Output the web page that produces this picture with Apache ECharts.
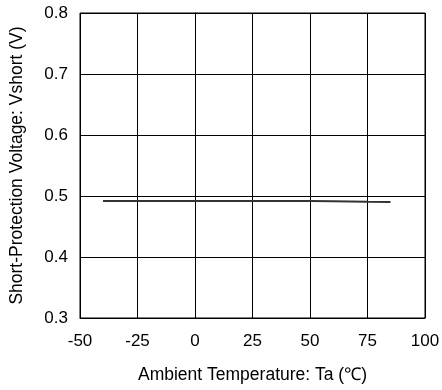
<!DOCTYPE html>
<html><head><meta charset="utf-8">
<script src="https://cdn.jsdelivr.net/npm/echarts@6/dist/echarts.min.js"></script>
<style>html,body{margin:0;padding:0;background:#fff}#c{width:442px;height:390px}</style>
</head><body><div id="c"></div>
<script>
const temps = [-40, -25, 0, 25, 50, 60, 75, 85];
const vshort = [0.492, 0.492, 0.492, 0.492, 0.492, 0.4915, 0.4905, 0.490];
const xTicks = [-50, -25, 0, 25, 50, 75, 100];
const yTicks = [0.3, 0.4, 0.5, 0.6, 0.7, 0.8];
const chart = echarts.init(document.getElementById('c'), null, {renderer: 'canvas'});
const font = 'Liberation Sans, Arial, sans-serif';
chart.setOption({
  animation: false,
  grid: {left: 80, right: 17, top: 13, bottom: 72, show: true, borderColor: '#000', borderWidth: 1, containLabel: false, outerBoundsMode: 'none'},
  xAxis: {
    type: 'value', min: xTicks[0], max: xTicks[xTicks.length-1], interval: 25,
    name: 'Ambient Temperature: Ta (℃)', nameLocation: 'middle', nameGap: 48,
    nameTextStyle: {fontFamily: font, fontSize: 17.5, color: '#000'},
    axisLine: {lineStyle: {color: '#000'}}, axisTick: {show: false},
    axisLabel: {fontFamily: font, fontSize: 17, color: '#000', margin: 15},
    splitLine: {show: true, lineStyle: {color: '#000', width: 1}}
  },
  yAxis: {
    type: 'value', min: yTicks[0], max: yTicks[yTicks.length-1], interval: 0.1,
    name: 'Short-Protection Voltage: Vshort (V)', nameLocation: 'middle', nameGap: 54,
    nameTextStyle: {fontFamily: font, fontSize: 17.5, color: '#000'},
    axisLine: {show: true, lineStyle: {color: '#000'}}, axisTick: {show: false},
    axisLabel: {fontFamily: font, fontSize: 17, color: '#000', margin: 12, formatter: v => v.toFixed(1)},
    splitLine: {show: true, lineStyle: {color: '#000', width: 1}}
  },
  series: [{
    type: 'line', data: temps.map((t, i) => [t, vshort[i]]),
    showSymbol: false, symbol: 'none',
    lineStyle: {color: '#333', width: 2}
  }]
});
</script></body></html>
